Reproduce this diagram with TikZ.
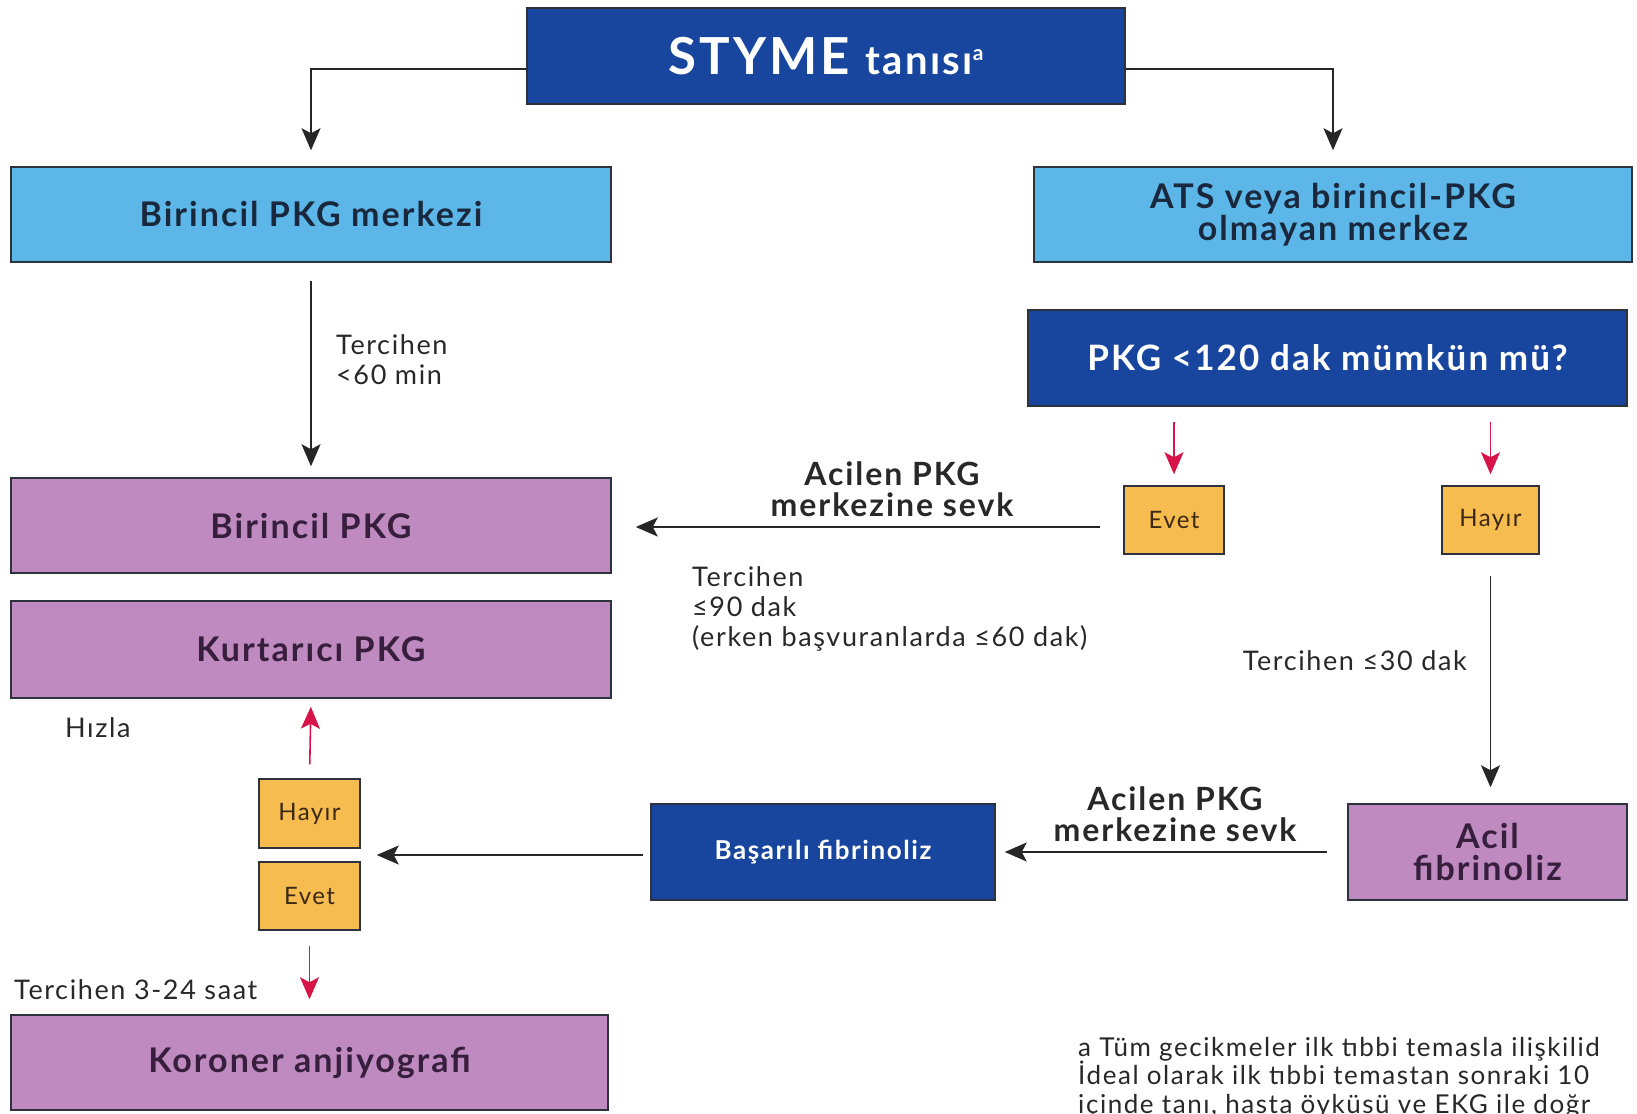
\documentclass[tikz,border=0pt]{standalone}
\usepackage{fontspec}
\setmainfont{Lato}[LetterSpace=6]
\usetikzlibrary{arrows.meta}
\definecolor{dblue}{RGB}{24,70,158}
\definecolor{lblue}{RGB}{92,182,232}
\definecolor{purp}{RGB}{190,138,192}
\definecolor{orng}{RGB}{247,188,80}
\definecolor{redar}{RGB}{214,20,72}
\definecolor{navytxt}{RGB}{25,40,60}
\definecolor{purptxt}{RGB}{55,30,60}
\definecolor{orngtxt}{RGB}{60,40,20}
\definecolor{brdr}{RGB}{45,50,60}
\definecolor{lbl}{RGB}{40,40,40}
\tikzset{
  box/.style={draw=brdr, line width=1.5pt, rectangle, align=center, inner sep=0pt},
  dbox/.style={box, fill=dblue, text=white},
  lbox/.style={box, fill=lblue, text=navytxt, font=\fontsize{34}{32}\selectfont\bfseries},
  pbox/.style={box, fill=purp, text=purptxt, font=\fontsize{34}{32}\selectfont\bfseries},
  obox/.style={box, fill=orng, text=orngtxt, font=\fontsize{24}{26}\selectfont},
  arr/.style={draw=black!85, line width=1.6pt, -{Stealth[length=22pt,width=19pt,inset=5pt]}},
  rarr/.style={draw=redar, line width=1.6pt, -{Stealth[length=22pt,width=19pt,inset=5pt]}},
  lab/.style={text=lbl, font=\fontsize{27}{30}\selectfont, inner sep=0pt},
  blab/.style={text=lbl, font=\fontsize{32}{31}\selectfont\bfseries, inner sep=0pt, align=center},
}
\begin{document}
\begin{tikzpicture}[x=1pt,y=-1pt]
\useasboundingbox (0,0) rectangle (1637,1113);
\clip (0,0) rectangle (1637,1113);
\fill[white] (0,0) rectangle (1637,1113);
% nodes
\node[dbox, minimum width=598pt, minimum height=96pt, font=\fontsize{51}{54}\selectfont\bfseries] (styme) at (826,56) {STYME {\fontsize{40}{42}\selectfont tanısı}\raisebox{14pt}{\fontsize{21}{22}\selectfont a}};
\node[lbox, minimum width=600pt, minimum height=95pt] (merk1) at (311,214.5) {Birincil PKG merkezi};
\node[lbox, minimum width=598pt, minimum height=95pt] (ats) at (1333,214.5) {ATS veya birincil-PKG\\olmayan merkez};
\node[dbox, minimum width=599pt, minimum height=96pt, font=\fontsize{35}{37}\selectfont\bfseries] (q120) at (1327.5,358) {PKG <120 dak mümkün mü?};
\node[pbox, minimum width=600pt, minimum height=95pt] (bpkg) at (311,525.5) {Birincil PKG};
\node[pbox, minimum width=600pt, minimum height=97pt] (kpkg) at (311,649.5) {Kurtarıcı PKG};
\node[obox, minimum width=101pt, minimum height=69pt] (hayir2) at (309.5,813.5) {Hayır};
\node[obox, minimum width=101pt, minimum height=68pt] (evet2) at (309.5,896) {Evet};
\node[pbox, minimum width=597pt, minimum height=95pt] (koroner) at (309.5,1062.5) {Koroner anjiyografi};
\node[obox, minimum width=100pt, minimum height=68pt] (evet1) at (1174,520) {Evet};
\node[obox, minimum width=97pt, minimum height=68pt] (hayir1) at (1490.5,520) {Hayır};
\node[pbox, minimum width=279pt, minimum height=96pt] (acil) at (1487.5,852) {Acil\\fibrinoliz};
\node[dbox, minimum width=344pt, minimum height=96pt, font=\fontsize{26}{28}\selectfont\bfseries] (basarili) at (823,852) {Başarılı fibrinoliz};
% connectors
\coordinate (sl) at ([yshift=-13pt]styme.west);
\coordinate (sr) at ([yshift=-13pt]styme.east);
\draw[arr, shorten >=16pt] (sl) -| (merk1.north);
\draw[arr, shorten >=16pt] (sr) -| (ats.north);
\draw[arr, shorten <=18pt, shorten >=11pt] (merk1.south) -- (bpkg.north);
\node[lab, anchor=north west, align=left] (l60) at (336,334) {Tercihen\\<60 min};
\draw[rarr, shorten <=15pt, shorten >=11pt] (q120.south -| evet1.north) -- (evet1.north);
\draw[rarr, shorten <=15pt, shorten >=11pt] (q120.south -| hayir1.north) -- (hayir1.north);
\coordinate (ew) at ([yshift=-7pt]evet1.west);
\draw[arr, shorten <=23pt, shorten >=24pt] (ew) -- (ew -| bpkg.east);
\node[blab] (sevk1) at (892,489) {Acilen PKG\\merkezine sevk};
\node[lab, anchor=north west, align=left] (l90) at (692,566) {Tercihen\\≤90 dak\\(erken başvuranlarda ≤60 dak)};
\draw[arr, shorten <=21pt, shorten >=16pt] (hayir1.south) -- (hayir1.south |- acil.north);
\node[lab, anchor=east] (l30) at (1467,661) {Tercihen ≤30 dak};
\draw[arr, shorten <=20pt, shorten >=9pt] (acil.west) -- (basarili.east);
\node[blab] (sevk2) at (1175,814) {Acilen PKG\\merkezine sevk};
\coordinate (bw) at ([yshift=-3pt]basarili.west);
\draw[arr, shorten <=7pt, shorten >=16pt] (bw) -- (bw -| hayir2.east);
\draw[rarr, shorten <=14pt, shorten >=8pt] (hayir2.north) -- (kpkg.south);
\draw[rarr, shorten <=15pt, shorten >=15pt] (evet2.south) -- (koroner.north);
\node[lab, anchor=west] (hizla) at (65,728) {Hızla};
\node[lab, anchor=west] (l324) at (14,990) {Tercihen 3-24 saat};
% footnote
\node[lab, anchor=north west, align=left, font=\fontsize{26}{28.5}\selectfont] (fn) at (1078,1037) {a Tüm gecikmeler ilk tıbbi temasla ilişkilid\\İdeal olarak ilk tıbbi temastan sonraki 10\\içinde tanı, hasta öyküsü ve EKG ile doğr};
\end{tikzpicture}
\end{document}
